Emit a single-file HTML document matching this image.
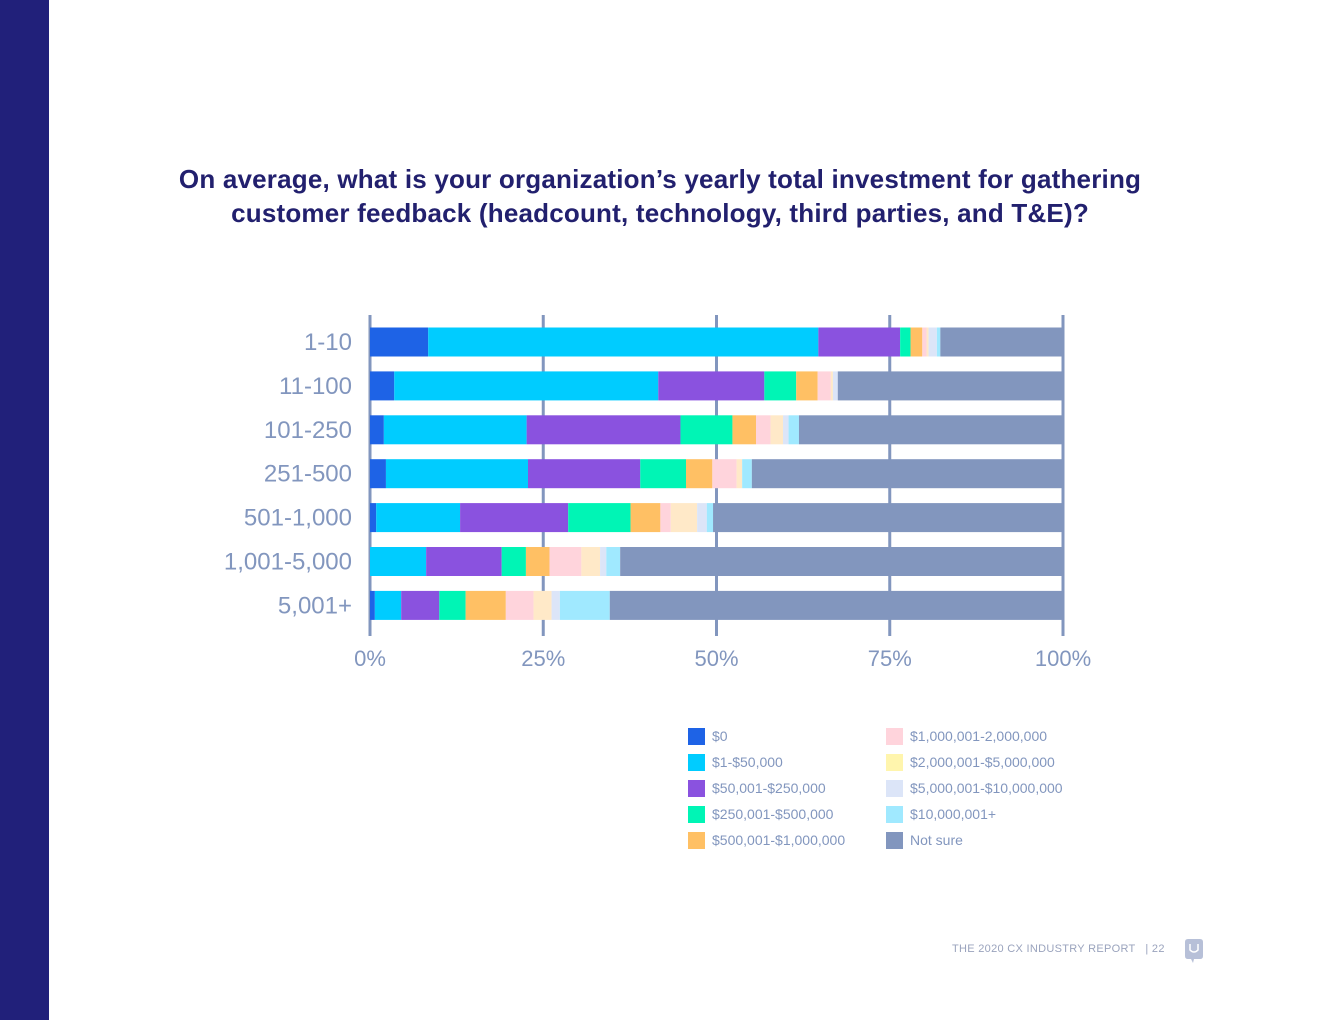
<!DOCTYPE html>
<html><head><meta charset="utf-8">
<style>
body{margin:0;width:1320px;height:1020px;background:#fff;position:relative;overflow:hidden;font-family:"Liberation Sans",sans-serif;}
#side{position:absolute;left:0;top:0;width:49px;height:1020px;background:#21207a;}
#title{position:absolute;left:60px;width:1200px;top:162px;text-align:center;color:#22206e;font-weight:bold;font-size:26px;letter-spacing:0.2px;line-height:34px;}
.leg{position:absolute;font-size:14px;color:#8296be;}
.sw{position:absolute;width:17px;height:17px;}
#footer{position:absolute;left:952px;top:943px;font-size:11px;color:#9aa3bd;letter-spacing:0.3px;}
</style></head><body>
<div id="side"></div>
<div id="title">On average, what is your organization’s yearly total investment for gathering<br>customer feedback (headcount, technology, third parties, and T&amp;E)?</div>
<svg id="chart" width="1320" height="1020" style="position:absolute;left:0;top:0"></svg>
<div id="legend"></div>
<div id="footer">THE 2020 CX INDUSTRY REPORT &nbsp;&nbsp;| 22</div>
<svg style="position:absolute;left:1184px;top:939px" width="20" height="25">
<path d="M2 0 H16 Q19 0 19 3 V17 Q19 20 16 20 H10 L9 24 L7 20 H4 Q1 20 1 17 V3 Q1 0 4 0Z" fill="#b7c0d8"/>
<path d="M6 5 V11 Q10 15 14 11 V5" stroke="#fff" stroke-width="1.5" fill="none"/>
</svg>
<script>
const categories=["1-10","11-100","101-250","251-500","501-1,000","1,001-5,000","5,001+"];
const seriesNames=["$0","$1-$50,000","$50,001-$250,000","$250,001-$500,000","$500,001-$1,000,000","$1,000,001-2,000,000","$2,000,001-$5,000,000","$5,000,001-$10,000,000","$10,000,001+","Not sure"];
const s0=[8.4,3.5,2.0,2.3,0.9,0,0.7];
const s1=[56.3,38.1,20.6,20.5,12.1,8.1,3.8];
const s2=[11.8,15.3,22.2,16.2,15.6,10.9,5.5];
const s3=[1.5,4.6,7.5,6.6,9.0,3.5,3.8];
const s4=[1.7,3.1,3.4,3.8,4.3,3.4,5.8];
const s5=[0.6,1.9,2.1,3.5,1.5,4.6,4.0];
const s6=[0.3,0.3,1.8,0.8,3.8,2.7,2.6];
const s7=[1.2,0.7,0.8,0,1.4,0.9,1.2];
const s8=[0.5,0,1.5,1.4,0.9,2.0,7.2];
const s9=[17.8,32.5,38.2,44.9,50.6,63.9,65.4];
const ticks=[0,25,50,75,100];
const tickLabels=["0%","25%","50%","75%","100%"];
const series=[s0,s1,s2,s3,s4,s5,s6,s7,s8,s9];
const barColors=["#1e63e6","#00ccff","#8a52df","#00f5b5","#ffc064","#ffd4dc","#ffe9c8","#dce5f8","#a0e9ff","#8296be"];
const legColors=["#1e63e6","#00ccff","#8a52df","#00f5b5","#ffc064","#ffd4dc","#fff5ad","#dce5f8","#a0e9ff","#8296be"];
const NS="http://www.w3.org/2000/svg";
const svg=document.getElementById('chart');
const x=v=>370+v*6.93;
const yc=i=>342+i*43.9;
const bh=29;
function mk(t,a){const e=document.createElementNS(NS,t);for(const k in a)e.setAttribute(k,a[k]);svg.appendChild(e);return e;}
ticks.forEach((v,k)=>{
  const l=mk('line',{x1:x(v),x2:x(v),y1:315,y2:636,stroke:'#8296be','stroke-width':3});
  
  
  const t=mk('text',{x:x(v),y:666,'text-anchor':'middle','font-size':22,fill:'#8296be','font-family':'Liberation Sans, sans-serif'});
  t.textContent=tickLabels[k];
  
  
});
categories.forEach((c,i)=>{
  let acc=0;
  series.forEach((s,j)=>{
    const v=s[i];
    const r=mk('rect',{x:x(acc),y:yc(i)-bh/2,width:Math.max(0,x(acc+v)-x(acc)),height:bh,fill:barColors[j]});
    
    
    acc+=v;
  });
  const t=mk('text',{x:352,y:yc(i)+8,'text-anchor':'end','font-size':24,fill:'#8296be','font-family':'Liberation Sans, sans-serif'});
  t.textContent=c;
  
  
});
const leg=document.getElementById('legend');
seriesNames.forEach((n,j)=>{
  const col=j<5?0:1,row=j%5;
  const sw=document.createElement('div');
  sw.className='sw';sw.style.left=(688+col*198)+'px';sw.style.top=(728+row*26)+'px';sw.style.background=legColors[j];
  
  
  leg.appendChild(sw);
  const t=document.createElement('div');
  t.className='leg';t.style.left=(712+col*198)+'px';t.style.top=(728+row*26)+'px';t.textContent=n;
  
  
  leg.appendChild(t);
});
</script>
</body></html>
